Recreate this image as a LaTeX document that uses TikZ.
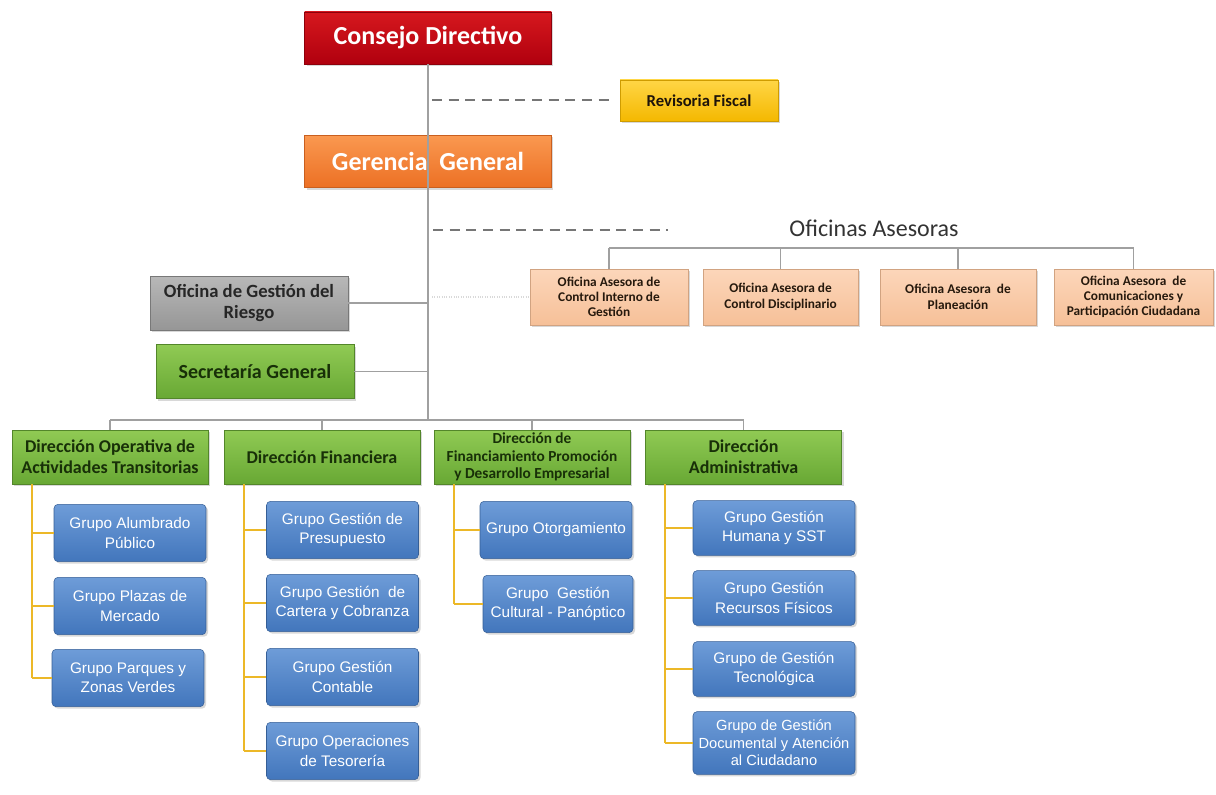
\documentclass[tikz,border=0pt]{standalone}
\usepackage{fontspec}
\setmainfont{Carlito}
\newfontfamily\grupofont{Liberation Sans}
\usetikzlibrary{positioning,shadows,calc}
\definecolor{consejotop}{RGB}{214,24,30}
\definecolor{consejobot}{RGB}{176,0,14}
\definecolor{gerenciatop}{RGB}{250,152,80}
\definecolor{gerenciabot}{RGB}{236,112,36}
\definecolor{revisortop}{RGB}{255,214,70}
\definecolor{revisorbot}{RGB}{244,184,0}
\definecolor{riesgotop}{RGB}{184,184,184}
\definecolor{riesgobot}{RGB}{150,150,150}
\definecolor{verdetop}{RGB}{144,202,84}
\definecolor{verdebot}{RGB}{104,168,52}
\definecolor{asesortop}{RGB}{252,214,186}
\definecolor{asesorbot}{RGB}{246,192,152}
\definecolor{grupotop}{RGB}{110,156,216}
\definecolor{grupobot}{RGB}{66,118,188}
\definecolor{lineagris}{RGB}{160,160,160}
\definecolor{guiongris}{RGB}{118,118,118}
\definecolor{oro}{RGB}{236,184,40}
\definecolor{textoverde}{RGB}{24,48,8}
\tikzset{
  caja/.style={align=center,inner sep=2pt,line width=0.4pt,
    drop shadow={opacity=0.3,shadow xshift=1.5pt,shadow yshift=-1.5pt}},
  consejo/.style={caja,top color=consejotop,bottom color=consejobot,draw=consejobot!80!black,
    text=white,minimum width=185pt,minimum height=39pt,font=\fontsize{19.5}{22}\selectfont\bfseries},
  gerencia/.style={consejo,top color=gerenciatop,bottom color=gerenciabot,draw=gerenciabot!85!black},
  revisor/.style={caja,top color=revisortop,bottom color=revisorbot,draw=revisorbot!85!black,
    text=black!85!brown,minimum width=118.5pt,minimum height=31pt,font=\fontsize{12.5}{14}\selectfont\bfseries},
  riesgo/.style={caja,top color=riesgotop,bottom color=riesgobot,draw=riesgobot!80!black,
    text=black!85,minimum width=148.5pt,minimum height=40.5pt,font=\fontsize{14}{16}\selectfont\bfseries},
  secretaria/.style={riesgo,top color=verdetop,bottom color=verdebot,draw=verdebot!80!black,
    text=textoverde,font=\fontsize{15}{17}\selectfont\bfseries},
  direccion/.style={secretaria,minimum width=147pt,minimum height=40.5pt,font=\fontsize{13.5}{15.5}\selectfont\bfseries},
  asesor/.style={caja,top color=asesortop,bottom color=asesorbot,draw=asesorbot!85!black,
    text=black!80!brown,minimum height=42pt,font=\fontsize{10}{11.5}\selectfont\bfseries},
  grupo/.style={caja,rounded corners=3pt,top color=grupotop,bottom color=grupobot,draw=grupobot!80!black,
    text=white,minimum width=114pt,minimum height=43pt,inner sep=1pt,font=\grupofont\fontsize{11.5}{14.5}\selectfont},
  titulo/.style={text=black!80,font=\fontsize{18}{20}\selectfont},
  linea/.style={draw=lineagris,line width=1pt},
  guion/.style={draw=guiongris,line width=1.5pt,dash pattern=on 7.5pt off 5pt},
  punteado/.style={draw=lineagris!40,line width=0.8pt,densely dotted},
  amarilla/.style={draw=oro,line width=1.3pt}
}
\begin{document}
\begin{tikzpicture}[x=0.75pt,y=-0.75pt]
  \useasboundingbox[fill=white] (0,0) rectangle (1216,795);
  \coordinate (bus) at (428,420);
  \coordinate (asebus) at (874,248);
  \coordinate (asetap) at (433,230);
  \coordinate (asefin) at (668,230);

  % cabeza
  \node[consejo] (consejo) at (428,38) {Consejo Directivo};
  \node[revisor] (revisoria) at (699,100.5) {Revisoria Fiscal};
  \node[gerencia] (gerencia) at (428,161.5) {Gerencia\ \ General};
  \node[titulo] (oficinas) at (874,228) {Oficinas Asesoras};

  % oficinas asesoras
  \node[asesor,minimum width=118.5pt] (a1) at (609,297) {Oficina Asesora de\\Control Interno de\\Gestión};
  \node[asesor,minimum width=116pt] (a2) at (780.5,297) {Oficina Asesora de\\Control Disciplinario};
  \node[asesor,minimum width=117pt] (a3) at (958,297) {Oficina Asesora\ \ de\\Planeación};
  \node[asesor,minimum width=119pt] (a4) at (1133.5,297) {Oficina Asesora\ \ de\\Comunicaciones y\\Participación Ciudadana};

  \node[riesgo] (riesgo) at (249,303) {Oficina de Gestión del\\Riesgo};
  \node[secretaria] (secretaria) at (255,371.5) {Secretaría General};

  % direcciones
  \node[direccion] (d1) at (110,457) {Dirección Operativa de\\Actividades Transitorias};
  \node[direccion] (d2) at (322,457) {Dirección Financiera};
  \node[direccion,font=\fontsize{11.5}{13.2}\selectfont\bfseries] (d3) at (532,457) {Dirección de\\Financiamiento Promoción\\y Desarrollo Empresarial};
  \node[direccion] (d4) at (743.5,457) {Dirección\\Administrativa};

  % grupos
  \node[grupo] (g11) at (130,533) {Grupo Alumbrado\\Público};
  \node[grupo] (g12) at (130,606) {Grupo Plazas de\\Mercado};
  \node[grupo] (g13) at (128,678) {Grupo Parques y\\Zonas Verdes};
  \node[grupo] (g21) at (342.5,530) {Grupo Gestión de\\Presupuesto};
  \node[grupo] (g22) at (342.5,603) {Grupo Gestión\ \ de\\Cartera y Cobranza};
  \node[grupo] (g23) at (342.5,677) {Grupo Gestión\\Contable};
  \node[grupo] (g24) at (342.5,751) {Grupo Operaciones\\de Tesorería};
  \node[grupo] (g31) at (556,530) {Grupo Otorgamiento};
  \node[grupo,minimum width=112.5pt] (g32) at (558,604) {Grupo\ \ Gestión\\Cultural - Panóptico};
  \node[grupo,minimum width=121.5pt,minimum height=41pt] (g41) at (774,528) {Grupo Gestión\\Humana y SST};
  \node[grupo,minimum width=121.5pt,minimum height=41pt] (g42) at (774,598) {Grupo Gestión\\Recursos Físicos};
  \node[grupo,minimum width=121.5pt,minimum height=41pt] (g43) at (774,669) {Grupo de Gestión\\Tecnológica};
  \node[grupo,minimum width=121.5pt,minimum height=47pt,font=\grupofont\fontsize{11}{13.2}\selectfont] (g44) at (774,743) {Grupo de Gestión\\Documental y Atención\\al Ciudadano};

  % conectores
  \draw[linea] (consejo.south) -- (consejo.south |- bus);
  \draw[guion] ([xshift=3pt]revisoria.west -| consejo.south) -- ([xshift=-6pt]revisoria.west);
  \draw[guion] (asetap) -- (asefin);
  \draw[punteado] ([xshift=3pt]a1.west -| consejo.south) -- (a1.west);
  \draw[linea] (a1.north |- asebus) -- (a4.north |- asebus);
  \foreach \n in {a1,a2,a3,a4}
    \draw[linea] (\n.north) -- (\n.north |- asebus);
  \draw[linea] (riesgo.east) -- (riesgo.east -| consejo.south);
  \draw[linea] (secretaria.east) -- (secretaria.east -| consejo.south);
  \draw[linea] (d1.north |- bus) -- (d4.north |- bus);
  \foreach \n in {d1,d2,d3,d4}
    \draw[linea] (\n.north) -- (\n.north |- bus);
  \foreach \d/\ultimo/\hijos in {d1/g13/{g11,g12,g13},d2/g24/{g21,g22,g23,g24},d3/g32/{g31,g32},d4/g44/{g41,g42,g43,g44}}{
    \coordinate (\d top) at ([xshift=15pt]\d.south west);
    \draw[amarilla] (\d top) -- (\d top |- \ultimo.west);
    \foreach \g in \hijos
      \draw[amarilla] (\d top |- \g.west) -- (\g.west);
  }
\end{tikzpicture}
\end{document}
